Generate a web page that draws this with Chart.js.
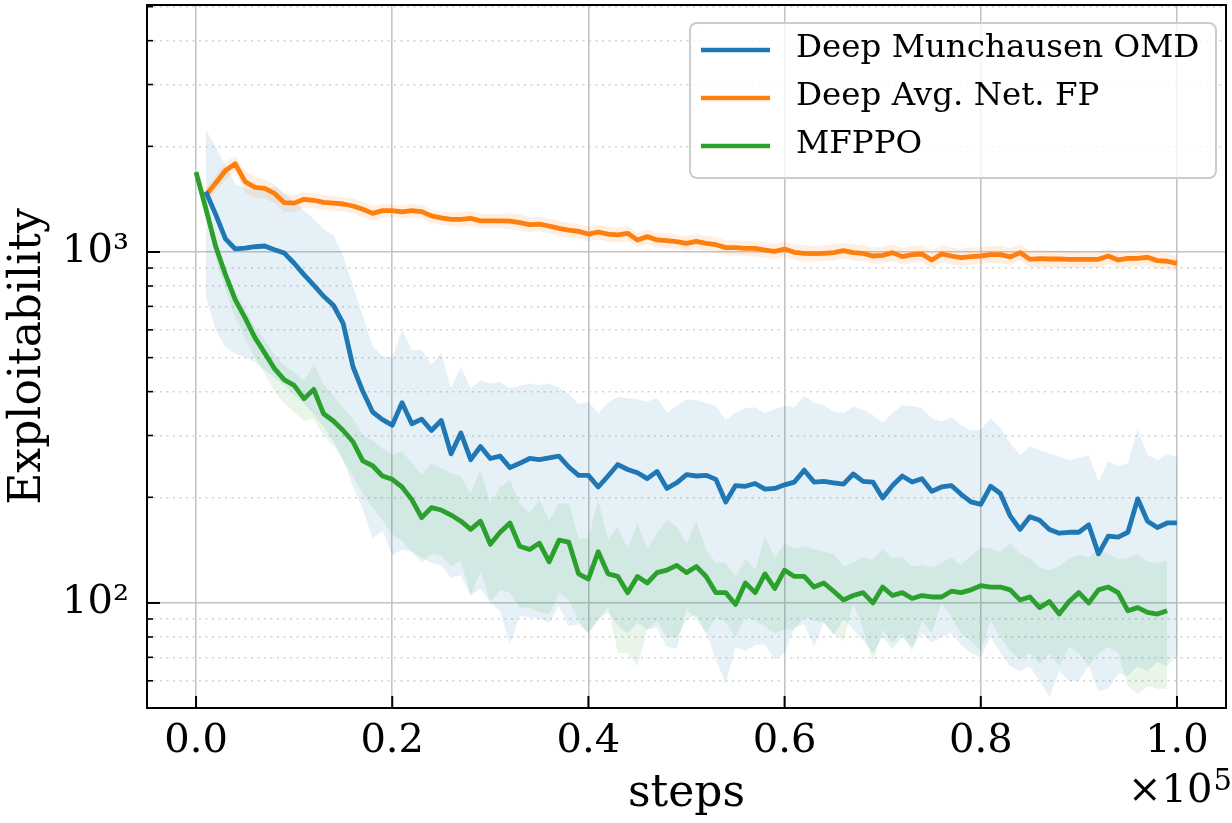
<!DOCTYPE html>
<html>
<head>
<meta charset="utf-8">
<script src="https://cdn.jsdelivr.net/npm/chart.js@4.4.1/dist/chart.umd.min.js"></script>
<style>
  html, body { margin: 0; padding: 0; background: #fff; overflow: hidden; }
  canvas { display: block; }
</style>
</head>
<body>
<canvas id="myChart" width="1232" height="823" style="width:1232px;height:823px"></canvas>
<script>
const labels = ['Deep Munchausen OMD', 'Deep Avg. Net. FP', 'MFPPO'];
const colors = ['#1f77b4', '#ff7f0e', '#2ca02c'];

// steps: green is logged at 0..99k, the other two at 1k..100k
const stepsGreen = [];
for (let i = 0; i < 100; i++) stepsGreen.push(i * 1000);
const stepsOther = stepsGreen.map(s => s + 1000);

const omdMean = [1484,1280,1090,1020,1025,1035,1040,1015,993,929,
  862,805,748,705,626,471,401,350,333,321,
  372,324,334,310,331,266,305,256,279,258,
  262,243,250,258,256,259,262,244,231,231,
  214,230,248,240,235,226,237,212,220,232,
  230,231,225,194,216,215,219,211,212,217,
  221,239,221,222,220,218,233,222,221,199,
  216,230,221,226,208,214,216,204,194,191,
  215,205,177,162,176,172,162,158,159,159,
  167,138,155,154,159,198,171,164,169,169];
const omdHigh = [2230,1995,1764,1560,1520,1500,1500,1540,1465,1395,
  1312,1242,1160,1117,975,801,658,540,504,502,
  598,526,526,478,515,409,471,409,431,422,
  426,409,415,421,418,421,411,394,369,375,
  347,372,387,383,380,375,383,348,364,380,
  378,371,364,332,348,359,361,347,357,364,
  361,389,372,366,351,348,363,355,343,326,
  347,366,364,359,336,329,338,321,310,311,
  336,315,285,264,279,273,267,261,255,259,
  264,222,253,246,250,313,264,255,265,261];
const omdLow = [745,600,536,512,502,486,461,438,418,392,
  370,345,318,290,255,215,185,153,161,137,
  142,140,135,130,128,118,120,105,110,100,
  95,76,92,91,90,88,98,86,87,82,
  90,94,86,82,88,84,85,75,74,96,
  90,82,69,59,75,73,76,76,69,72,
  85,87,75,88,81,90,84,78,72,80,
  74,80,75,82,77,80,82,76,72,70,
  80,72,66,64,66,60,54,64,60,60,
  66,56,57,63,62,66,64,68,66,71];

const fpMean = [1453,1570,1707,1783,1586,1528,1517,1468,1382,1378,
  1413,1404,1385,1378,1370,1352,1323,1288,1312,1312,
  1300,1312,1303,1267,1250,1239,1239,1247,1227,1227,
  1227,1224,1212,1197,1201,1186,1168,1155,1145,1125,
  1140,1125,1118,1130,1082,1106,1082,1078,1070,1058,
  1072,1058,1049,1029,1029,1024,1024,1013,1004,1020,
  998,991,989,991,996,1009,996,991,974,978,
  996,970,983,987,949,987,974,963,970,974,
  983,983,968,996,953,957,955,955,953,953,
  953,953,974,949,959,959,966,945,941,928];
const fpHigh = [1520,1650,1800,1880,1700,1640,1610,1560,1470,1450,
  1480,1470,1450,1445,1430,1420,1390,1350,1370,1365,
  1355,1370,1360,1320,1305,1295,1300,1310,1285,1280,
  1285,1290,1280,1255,1260,1245,1225,1210,1200,1180,
  1195,1180,1170,1185,1135,1160,1135,1130,1120,1110,
  1125,1110,1100,1080,1080,1075,1078,1065,1055,1070,
  1050,1045,1040,1045,1050,1062,1050,1045,1030,1035,
  1052,1025,1040,1045,1010,1045,1030,1020,1030,1032,
  1040,1042,1025,1050,1010,1015,1010,1012,1008,1008,
  1005,1005,1025,1000,1012,1010,1015,995,990,975];
const fpLow = [1400,1490,1610,1690,1480,1420,1420,1380,1300,1300,
  1340,1335,1320,1310,1305,1285,1255,1225,1250,1255,
  1245,1255,1245,1210,1195,1185,1180,1185,1170,1170,
  1170,1160,1150,1140,1145,1130,1110,1100,1090,1070,
  1085,1070,1065,1075,1030,1050,1030,1025,1020,1005,
  1020,1005,1000,980,978,975,972,962,955,970,
  948,940,940,942,945,958,945,940,925,928,
  942,920,930,935,900,935,922,912,920,925,
  930,930,915,945,905,905,905,902,900,900,
  900,900,925,900,908,910,915,895,892,880];

const ppoMean = [1688,1328,1038,862,730,649,570,516,465,432,
  417,382,406,346,330,310,288,254,246,230,
  225,214,197,175,187,184,178,171,162,171,
  147,159,169,145,142,148,131,151,149,121,
  117,140,121,119,107,119,114,122,124,128,
  122,127,119,107,107,99,114,107,121,110,
  124,119,119,111,114,108,102,105,107,100,
  111,105,107,103,105,104,104,108,107,109,
  112,111,111,109,102,104,97,101,93,101,
  107,100,109,111,107,95,97,94,93,95];
const ppoHigh = [1700,1380,1080,900,770,690,610,560,510,475,
  455,430,480,420,390,360,335,300,290,275,
  265,270,250,232,250,242,234,229,205,240,
  192,214,224,192,180,197,172,192,192,153,
  153,197,151,165,143,168,143,158,172,165,
  148,171,142,130,130,119,134,124,155,134,
  148,143,145,142,140,138,127,130,135,133,
  142,134,135,127,128,126,130,135,128,136,
  144,143,140,148,138,134,126,124,127,134,
  137,135,143,138,133,134,138,131,130,132];
const ppoLow = [1680,1280,960,780,650,570,500,450,400,370,
  350,330,335,300,280,255,230,205,187,172,
  157,150,140,130,138,136,127,132,105,123,
  101,109,107,97,97,94,93,107,102,89,
  82,89,98,72,72,66,84,89,80,80,
  89,93,82,91,88,80,91,89,86,82,
  84,84,91,89,88,82,78,100,84,68,
  84,77,82,73,89,82,100,91,82,78,
  73,89,80,73,69,72,67,72,66,75,
  72,66,72,75,72,58,55,58,57,57];

const xTicks = [0, 20000, 40000, 60000, 80000, 100000];
const yTicks = [60, 70, 80, 90, 100, 200, 300, 400, 500, 600, 700, 800, 900,
  1000, 2000, 3000, 4000, 5000];
const yMajor = [100, 1000];

const serif = '"DejaVu Serif", serif';

function pts(xs, ys) {
  return ys.map((v, i) => ({ x: xs[i], y: v }));
}

function band(xs, hi, lo, rgba) {
  return [
    { data: pts(xs, hi), borderColor: 'transparent', borderWidth: 0, pointRadius: 0,
      backgroundColor: rgba, fill: '+1', order: 2 },
    { data: pts(xs, lo), borderColor: 'transparent', borderWidth: 0, pointRadius: 0,
      backgroundColor: rgba, fill: false, order: 2 }
  ];
}

function line(xs, ys, i) {
  return { label: labels[i], data: pts(xs, ys), borderColor: colors[i], borderWidth: 4.8,
    pointRadius: 0, fill: false, tension: 0, borderJoinStyle: 'round', order: 0 };
}

const datasets = [
  ...band(stepsOther, omdHigh, omdLow, 'rgba(31,119,180,0.11)'),
  ...band(stepsOther, fpHigh, fpLow, 'rgba(255,127,14,0.12)'),
  ...band(stepsGreen, ppoHigh, ppoLow, 'rgba(44,160,44,0.11)'),
  line(stepsOther, omdMean, 0),
  line(stepsOther, fpMean, 1),
  line(stepsGreen, ppoMean, 2)
];

// inward ticks, frame, offset text and legend
const decor = {
  id: 'decor',
  afterDraw(chart) {
    const { ctx, chartArea: a, scales: { x, y } } = chart;
    ctx.save();
    ctx.strokeStyle = '#000';
    ctx.lineWidth = 2;
    xTicks.forEach(v => {
      const px = x.getPixelForValue(v);
      ctx.beginPath(); ctx.moveTo(px, a.bottom); ctx.lineTo(px, a.bottom - 12); ctx.stroke();
    });
    yTicks.forEach(v => {
      const py = y.getPixelForValue(v);
      const major = yMajor.includes(v);
      ctx.lineWidth = major ? 2 : 1.6;
      ctx.beginPath(); ctx.moveTo(a.left, py); ctx.lineTo(a.left + (major ? 13 : 6), py); ctx.stroke();
    });
    ctx.lineWidth = 2;
    ctx.strokeRect(a.left, a.top, a.right - a.left, a.bottom - a.top);

    // x10^5 offset text
    ctx.fillStyle = '#000';
    ctx.textAlign = 'left';
    ctx.textBaseline = 'alphabetic';
    ctx.font = '40px ' + serif;
    ctx.fillText('×10', 1128, 802);
    const w = ctx.measureText('×10').width;
    ctx.font = '29px ' + serif;
    ctx.fillText('5', 1128 + w + 1, 790);

    // legend
    const lx = 690, ly = 23, lw = 526, lh = 155;
    ctx.beginPath();
    ctx.roundRect(lx, ly, lw, lh, 7);
    ctx.fillStyle = 'rgba(255,255,255,0.8)';
    ctx.fill();
    ctx.strokeStyle = '#cccccc';
    ctx.lineWidth = 2;
    ctx.stroke();
    const rows = [50, 98, 146];
    ctx.font = '32.5px ' + serif;
    ctx.textAlign = 'left';
    ctx.textBaseline = 'middle';
    labels.forEach((t, i) => {
      ctx.strokeStyle = colors[i];
      ctx.lineWidth = 4.5;
      ctx.beginPath(); ctx.moveTo(701, rows[i]); ctx.lineTo(770, rows[i]); ctx.stroke();
      ctx.fillStyle = '#000';
      ctx.fillText(t, 796, rows[i] - 1);
    });
    ctx.restore();
  }
};

const config = {
  type: 'line',
  data: { datasets: datasets },
  options: {
    responsive: false,
    animation: false,
    layout: { padding: { top: 5, right: 6, left: 0, bottom: 0 } },
    plugins: { legend: { display: false }, tooltip: { enabled: false } },
    scales: {
      x: {
        type: 'linear',
        min: -5000,
        max: 105000,
        afterBuildTicks: s => { s.ticks = xTicks.map(v => ({ value: v })); },
        afterFit: s => { s.height = 115; s.paddingLeft = 0; s.paddingRight = 0; },
        ticks: {
          callback: v => (v / 100000).toFixed(1),
          font: { family: serif, size: 40 },
          color: '#000',
          padding: 10,
          maxRotation: 0,
          autoSkip: false
        },
        grid: { color: '#c4c4c4', lineWidth: 1.6, drawTicks: false },
        border: { display: false },
        title: { display: true, text: 'steps', color: '#000',
          font: { family: serif, size: 44 }, padding: { top: 0, bottom: 2 } }
      },
      y: {
        type: 'logarithmic',
        min: 50.2,
        max: 5055,
        afterBuildTicks: s => { s.ticks = yTicks.map(v => ({ value: v, major: yMajor.includes(v) })); },
        afterFit: s => { s.width = 147; s.paddingTop = 0; s.paddingBottom = 0; },
        ticks: {
          callback: v => v === 100 ? '10²' : (v === 1000 ? '10³' : ''),
          font: { family: serif, size: 40 },
          color: '#000',
          padding: 18,
          autoSkip: false
        },
        grid: {
          color: c => (c.tick && yMajor.includes(c.tick.value)) ? '#c4c4c4' : '#d2d2d2',
          lineWidth: 1.6,
          drawTicks: false
        },
        border: {
          display: false,
          dash: c => (c.tick && !yMajor.includes(c.tick.value)) ? [2, 4.5] : []
        },
        title: { display: true, text: 'Exploitability', color: '#000',
          font: { family: serif, size: 44 }, padding: { top: 2, bottom: 4 } }
      }
    }
  },
  plugins: [decor]
};

const myChart = new Chart(document.getElementById('myChart'), config);
</script>
</body>
</html>
